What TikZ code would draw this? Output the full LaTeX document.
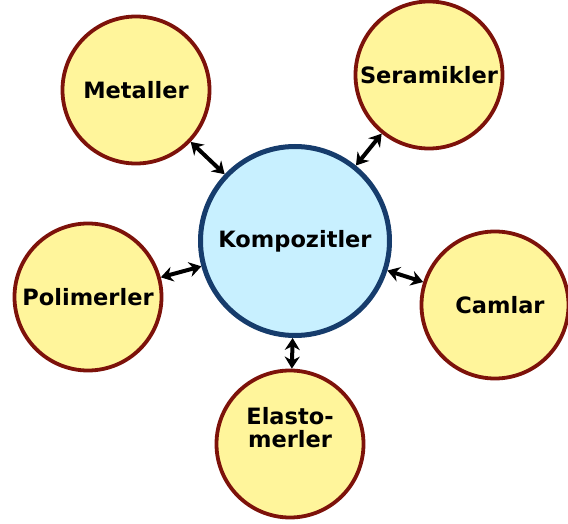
\documentclass[tikz,border=0pt]{standalone}
\usepackage{fontspec}
\setmainfont{DejaVu Sans}
\usepackage{tikz}
\usetikzlibrary{shapes.geometric, arrows.meta, positioning}
\usepackage{xcolor}
\definecolor{corefill}{RGB}{200,240,255}
\definecolor{coreborder}{RGB}{22,60,108}
\definecolor{matfill}{RGB}{255,245,155}
\definecolor{matborder}{RGB}{125,18,10}
\tikzset{
    core/.style={circle, draw=coreborder, fill=corefill, line width=5pt,
        minimum size=189pt, inner sep=0pt, align=center, font=\bfseries\fontsize{22.5}{23}\selectfont},
    material/.style={circle, draw=matborder, fill=matfill, line width=3.8pt,
        minimum size=147pt, inner sep=0pt, align=center, font=\bfseries\fontsize{22.5}{23}\selectfont},
    link/.style={<->, >={Stealth[length=12pt,width=15pt]}, line width=4pt, draw=black}
}

\begin{document}
\begin{tikzpicture}[x=1pt, y=-1pt]

    \useasboundingbox (0,0) rectangle (568,524);

    \node[core] (komp) at (295,241) {Kompozitler};

    \node[material] (metal) at (136,90) {Metaller};
    \node[material] (seram) at (429,75) {Seramikler};
    \node[material] (polim) at (88,297) {Polimerler};
    \node[material] (camlar) at (495,305) {\hspace{10pt}Camlar};
    \node[material, label={[font=\bfseries\fontsize{22.5}{23}\selectfont, align=center, yshift=16pt]center:Elasto-\\merler}] (elast) at (290,444) {};

    \draw[link] (metal) -- (komp);
    \draw[link] (seram) -- (komp);
    \draw[link] (polim) -- (komp);
    \draw[link] (camlar) -- (komp);
    \draw[link] (elast) -- (komp);

\end{tikzpicture}
\end{document}
